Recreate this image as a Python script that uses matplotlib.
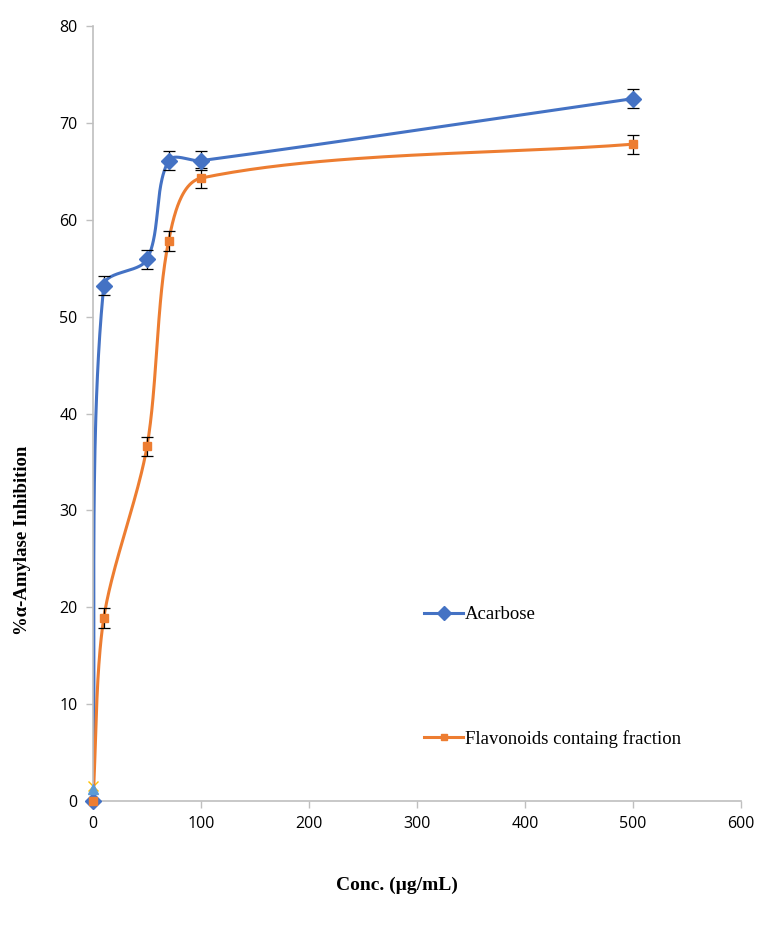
import numpy as np
import matplotlib.pyplot as plt

# Data
conc = [0, 10, 50, 70, 100, 500]
acarbose = [0, 53.2, 55.9, 66.1, 66.1, 72.5]
acarbose_err = [0, 1.0, 1.0, 1.0, 1.0, 1.0]
flavonoids = [0, 18.9, 36.6, 57.8, 64.3, 67.8]
flavonoids_err = [0, 1.0, 1.0, 1.0, 1.0, 1.0]

blue = '#4472C4'
orange = '#ED7D31'

XMAX, YMAX = 600, 80
# axes size in pixels (used to smooth in screen space like Excel)
PX_W, PX_H = 648, 775


def smooth(xs, ys, k=0.3, n=50):
    # smoothed line: cubic Bezier, tangent along neighbours, length scaled by segment
    px = np.array(xs, float) * PX_W / XMAX
    py = np.array(ys, float) * PX_H / YMAX
    pts = np.column_stack([px, py])
    m = len(pts)

    def tangent(i):
        a = pts[max(i - 1, 0)]
        b = pts[min(i + 1, m - 1)]
        d = b - a
        return d / np.linalg.norm(d)

    out = []
    for i in range(m - 1):
        p1, p2 = pts[i], pts[i + 1]
        L = np.linalg.norm(p2 - p1)
        c1 = p1 + tangent(i) * L * k
        c2 = p2 - tangent(i + 1) * L * k
        t = np.linspace(0, 1, n)[:, None]
        seg = ((1 - t) ** 3) * p1 + 3 * ((1 - t) ** 2) * t * c1 + 3 * (1 - t) * t ** 2 * c2 + t ** 3 * p2
        out.append(seg if i == 0 else seg[1:])
    out = np.vstack(out)
    return out[:, 0] * XMAX / PX_W, out[:, 1] * YMAX / PX_H


fig = plt.figure(figsize=(7.71, 9.33), dpi=100)
ax = fig.add_axes([93 / 771, 132 / 933, 648 / 771, 775 / 933])

for ys, err, col, mk, ms, lab in [
    (acarbose, acarbose_err, blue, 'D', 8, 'Acarbose'),
    (flavonoids, flavonoids_err, orange, 's', 6, 'Flavonoids containg fraction'),
]:
    sx, sy = smooth(conc, ys)
    ax.plot(sx, sy, color=col, lw=2.2, zorder=2)
    ax.errorbar(conc, ys, yerr=err, fmt='none', ecolor='black', elinewidth=0.9,
                capsize=4, capthick=0.9, zorder=3)
    ax.plot(conc, ys, color=col, lw=2.2, marker=mk, ms=ms, linestyle='none', zorder=4,
            clip_on=False)
    ax.plot([], [], color=col, lw=2.2, marker=mk, ms=ms - 1, label=lab)

# small markers at origin
ax.plot([0], [1.2], marker='^', ms=7, color='#5B9BD5', linestyle='none', zorder=5,
        clip_on=False)
ax.plot([0], [1.6], marker='x', ms=7, color='#FFC000', mew=1, linestyle='none', zorder=1,
        clip_on=False)

ax.set_xlim(0, XMAX)
ax.set_ylim(0, YMAX)
ax.set_xticks(np.arange(0, 601, 100))
ax.set_yticks(np.arange(0, 81, 10))

for s in ['top', 'right']:
    ax.spines[s].set_visible(False)
for s in ['left', 'bottom']:
    ax.spines[s].set_color('#BFBFBF')
    ax.spines[s].set_linewidth(1.2)
ax.tick_params(colors='#BFBFBF', labelcolor='black', length=5, width=1,
               labelsize=11.5, pad=6)
for lbl in ax.get_xticklabels() + ax.get_yticklabels():
    lbl.set_family('Open Sans')

fig.text(397 / 771, 1 - 885 / 933, 'Conc. (µg/mL)', ha='center', va='center',
         family='Liberation Serif', fontweight='bold', fontsize=14)
fig.text(23 / 771, 1 - 540 / 933, '%α-Amylase Inhibition', ha='center', va='center',
         rotation=90, family='Liberation Serif', fontweight='bold', fontsize=13.5)

leg = fig.legend(loc='upper left', bbox_to_anchor=(424 / 771, 1 - 606 / 933),
                 frameon=False, prop={'family': 'Liberation Serif', 'size': 13.5},
                 labelspacing=5.7, handlelength=2.1, handletextpad=0.1,
                 borderpad=0, borderaxespad=0)

fig.savefig('out.png', dpi=100)
